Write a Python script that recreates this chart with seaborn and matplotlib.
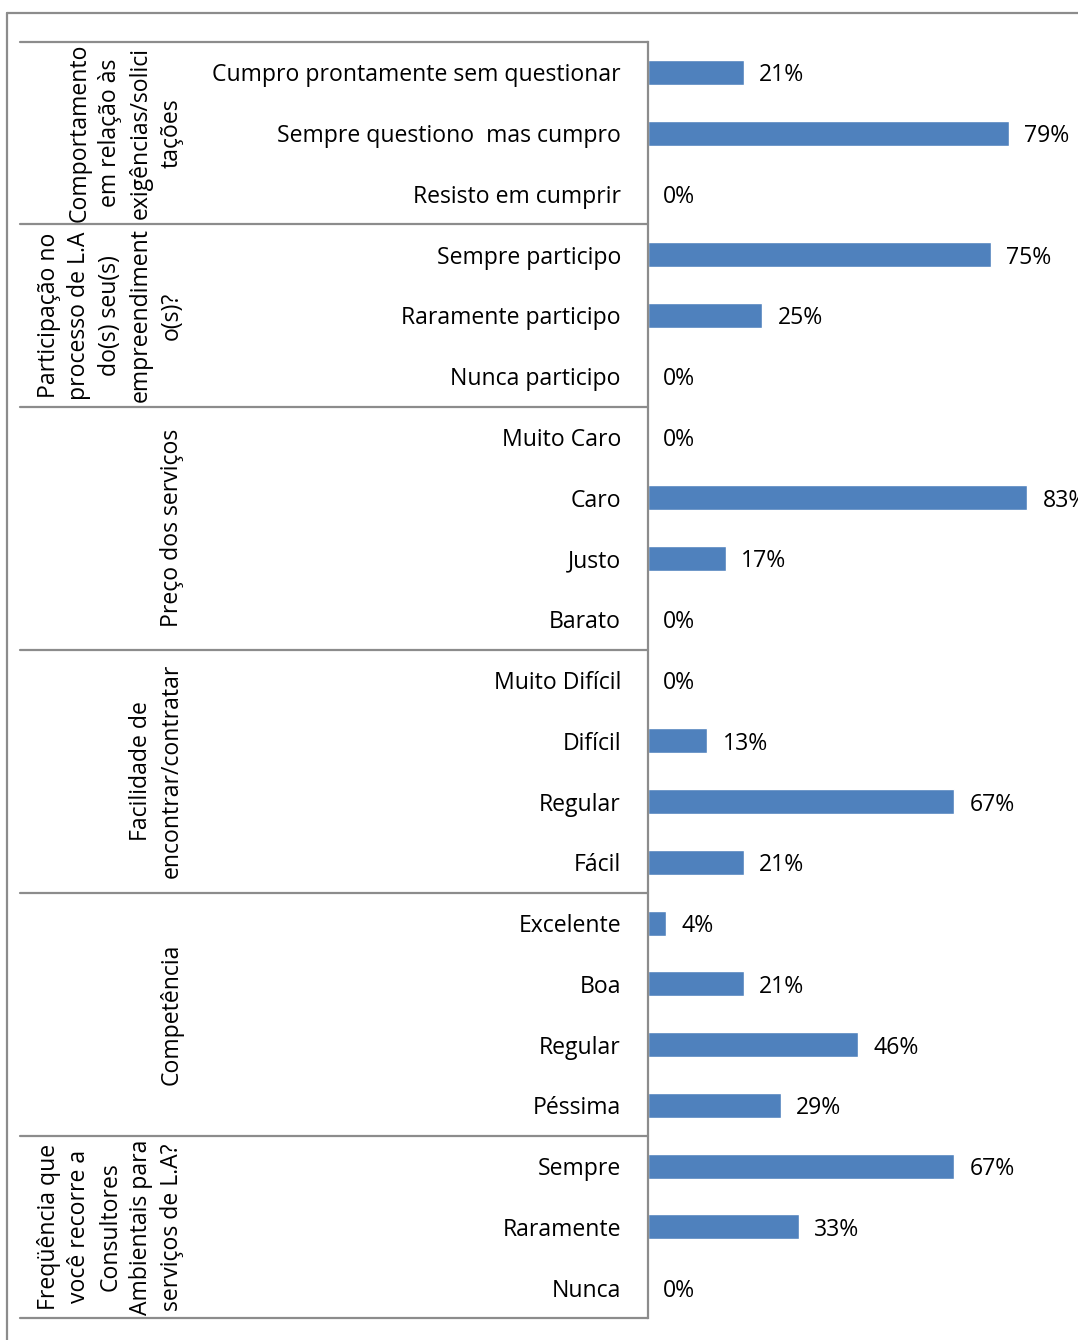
import matplotlib
matplotlib.use("Agg")
import matplotlib.pyplot as plt
import matplotlib.transforms as mtransforms
from matplotlib.lines import Line2D
import seaborn as sns
import pandas as pd

# Survey answers (top to bottom) and their share of respondents in percent
answers = [
    "Cumpro prontamente sem questionar", "Sempre questiono  mas cumpro", "Resisto em cumprir",
    "Sempre participo", "Raramente participo", "Nunca participo",
    "Muito Caro", "Caro", "Justo", "Barato",
    "Muito Difícil", "Difícil", "Regular", "Fácil",
    "Excelente", "Boa", "Regular", "Péssima",
    "Sempre", "Raramente", "Nunca",
]
percentages = [21, 79, 0, 75, 25, 0, 0, 83, 17, 0, 0, 13, 67, 21, 4, 21, 46, 29, 67, 33, 0]

# Question groups and how many answers each one holds
group_titles = [
    "Comportamento\nem relação às\nexigências/solici\ntações",
    "Participação no\nprocesso de L.A\ndo(s) seu(s)\nempreendiment\no(s)?",
    "Preço dos serviços",
    "Facilidade de\nencontrar/contratar",
    "Competência",
    "Freqüência que\nvocê recorre a\nConsultores\nAmbientais para\nserviços de L.A?",
]
group_sizes = [3, 3, 4, 4, 4, 3]

sns.set_theme(style="white")
plt.rcParams["font.family"] = ["Open Sans", "DejaVu Sans"]

FS = 16.6
W, H = 1078, 1340
fig = plt.figure(figsize=(W / 100, H / 100), dpi=100)
ax = fig.add_axes([648 / W, (H - 1318) / H, 430 / W, 1276 / H])

df = pd.DataFrame({"row": list(range(len(answers))), "pct": percentages})
sns.barplot(data=df, x="pct", y="row", orient="h", color="#4F81BD",
            saturation=1, width=0.41, ax=ax)

ax.set_xlim(0, 430 / 4.57)
ax.set_ylim(len(answers) - 0.5, -0.5)
ax.set_xlabel("")
ax.set_ylabel("")
ax.set_xticks([])
ax.set_yticks(range(len(answers)))
ax.set_yticklabels(answers, fontsize=FS, color="black")
ax.tick_params(axis="y", length=0, pad=19.5)

gray = "#8c8c8c"
for side in ["top", "right", "bottom"]:
    ax.spines[side].set_visible(False)
ax.spines["left"].set_color(gray)
ax.spines["left"].set_linewidth(1.6)

# value labels next to each bar
for i, v in enumerate(percentages):
    ax.annotate(f"{v}%", xy=(v, i), xytext=(11, 0), textcoords="offset points",
                ha="left", va="center_baseline", fontsize=FS, color="black",
                annotation_clip=False)

# group separators and rotated group titles on the left
blend = mtransforms.blended_transform_factory(fig.transFigure, ax.transData)
x0 = 20 / W
x1 = 648 / W
start = 0
boundaries = [-0.5]
for title, n in zip(group_titles, group_sizes):
    end = start + n
    boundaries.append(end - 0.5)
    center = (start + end - 1) / 2
    fig.text(184 / W, center, title, transform=blend, rotation=90,
             ha="right", va="center", multialignment="center",
             linespacing=1.38, fontsize=FS, color="black")
    start = end
for b in boundaries:
    fig.add_artist(Line2D([x0, x1], [b, b], transform=blend, color=gray, lw=1.6))

# outer frame (top and left edges)
fig.add_artist(Line2D([7 / W, 7 / W], [0, (H - 13) / H], color=gray, lw=1.6))
fig.add_artist(Line2D([7 / W, 1], [(H - 13) / H, (H - 13) / H], color=gray, lw=1.6))

fig.savefig("out.png", dpi=100)
